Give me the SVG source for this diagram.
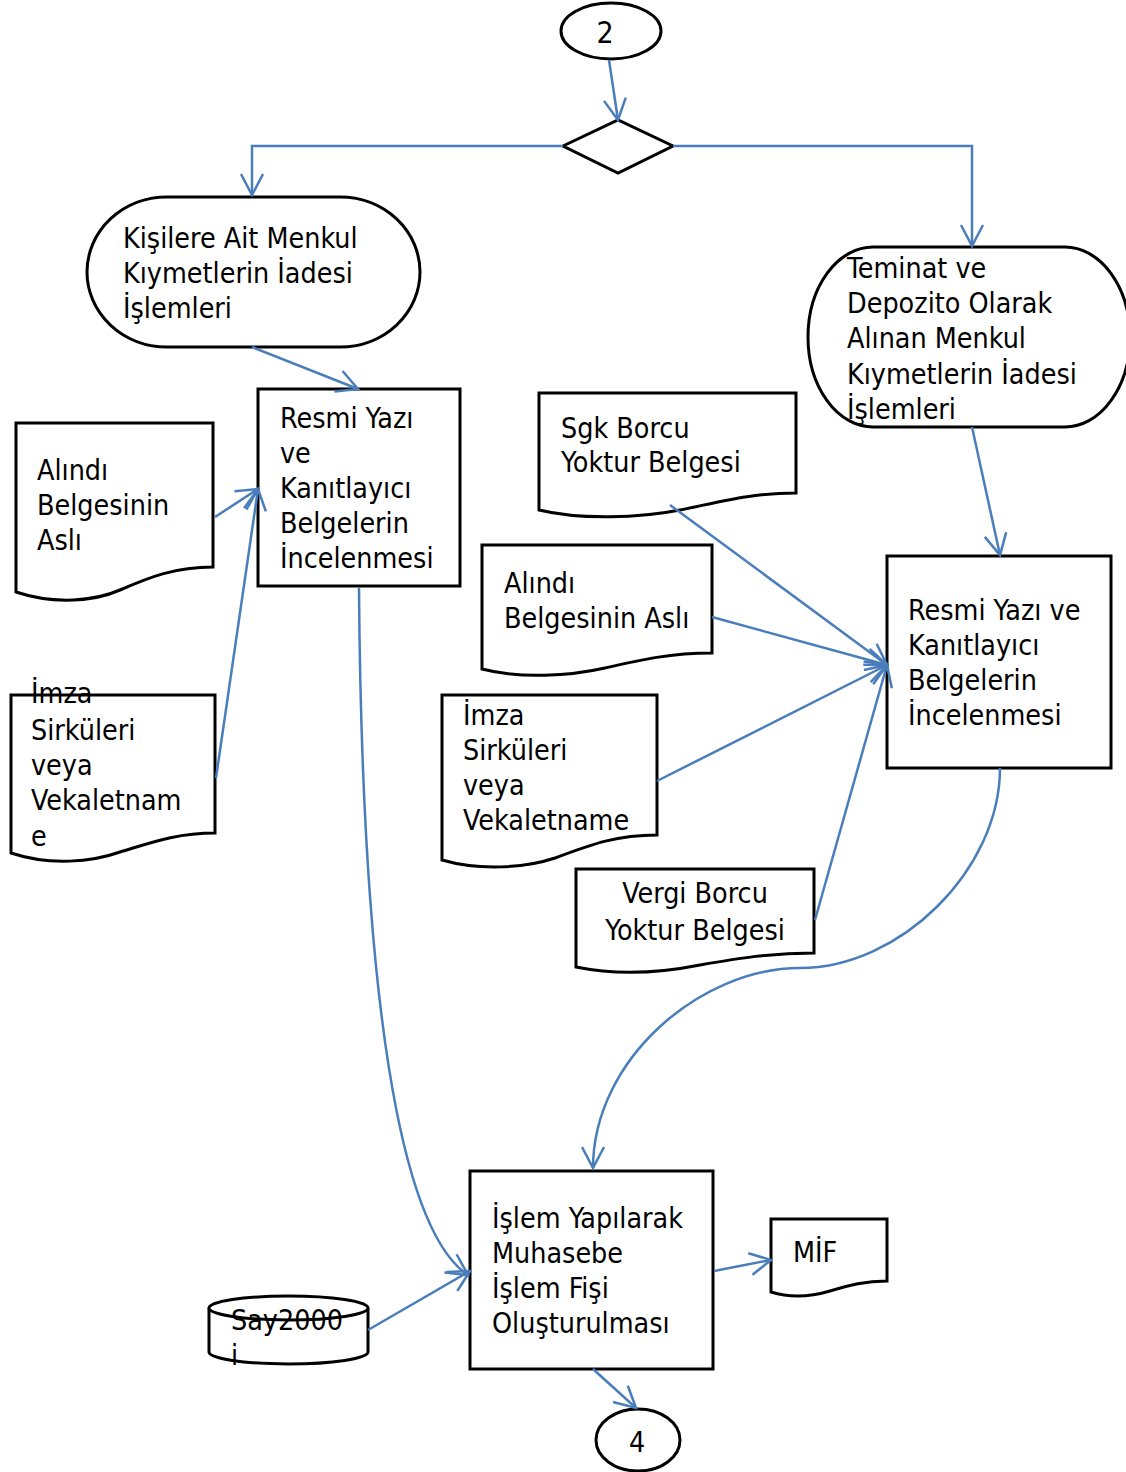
<svg xmlns="http://www.w3.org/2000/svg" width="1126" height="1472" viewBox="0 0 1126 1472">
<defs>
<marker id="arr" viewBox="-24 -12 26 24" refX="0" refY="0" markerWidth="26" markerHeight="24" markerUnits="userSpaceOnUse" orient="auto">
<path d="M-21,-11 L0,0 L-21,11" fill="none" stroke="#4a7ebb" stroke-width="2.5"/>
</marker>
</defs>
<style>
.s{fill:#fff;stroke:#000;stroke-width:3}
.c{fill:none;stroke:#4a7ebb;stroke-width:2.5}
.ca{fill:none;stroke:#4a7ebb;stroke-width:2.5;marker-end:url(#arr)}
text{font-family:'DejaVu Sans Condensed','DejaVu Sans',sans-serif;font-stretch:condensed;font-size:28.4px;fill:#000}
.big{font-size:30px}
</style>
<rect width="1126" height="1472" fill="#fff"/>
<g id="n_start">
<ellipse class="s" cx="611" cy="31" rx="50" ry="28"/>
<text class="big" x="605" y="43" text-anchor="middle">2</text>
</g>
<g id="n_decision">
<path class="s" d="M563,146 L618,120 L673,146 L618,173 Z"/>
</g>
<g id="n_kisilere">
<rect class="s" x="87" y="197" width="333" height="150" rx="80" ry="75"/>
<text x="123" y="248">Kişilere Ait Menkul</text>
<text x="123" y="283">Kıymetlerin İadesi</text>
<text x="123" y="318">İşlemleri</text>
</g>
<g id="n_resmiA">
<rect class="s" x="258" y="389" width="202" height="197"/>
<text x="280" y="428">Resmi Yazı</text>
<text x="280" y="463">ve</text>
<text x="280" y="498">Kanıtlayıcı</text>
<text x="280" y="533">Belgelerin</text>
<text x="280" y="568">İncelenmesi</text>
</g>
<g id="n_alindiL">
<path class="s" d="M16,423 L213,423 L213,567 C175,567 150,577 120,590 C95,601 55,605 16,592 Z"/>
<text x="37" y="480">Alındı</text>
<text x="37" y="515">Belgesinin</text>
<text x="37" y="550">Aslı</text>
</g>
<g id="n_imzaL">
<path class="s" d="M11,695 L215,695 L215,833 C176,833 150,843 120,852 C92,862 50,866 11,853 Z"/>
<text x="31" y="703">İmza</text>
<text x="31" y="740">Sirküleri</text>
<text x="31" y="775">veya</text>
<text x="31" y="810">Vekaletnam</text>
<text x="31" y="846">e</text>
</g>
<g id="n_teminat">
<rect class="s" x="808" y="247" width="322" height="180" rx="65" ry="90"/>
<text x="847" y="278">Teminat ve</text>
<text x="847" y="313">Depozito Olarak</text>
<text x="847" y="348">Alınan Menkul</text>
<text x="847" y="384">Kıymetlerin İadesi</text>
<text x="847" y="419">İşlemleri</text>
</g>
<g id="n_sgk">
<path class="s" d="M539,393 L796,393 L796,493 C750,493 720,502 680,510 C640,518 580,520 539,510 Z"/>
<text x="561" y="438">Sgk Borcu</text>
<text x="561" y="472">Yoktur Belgesi</text>
</g>
<g id="n_alindiM">
<path class="s" d="M482,545 L712,545 L712,653 C670,653 640,660 605,668 C570,676 520,679 482,669 Z"/>
<text x="504" y="593">Alındı</text>
<text x="504" y="628">Belgesinin Aslı</text>
</g>
<g id="n_imzaM">
<path class="s" d="M442,695 L657,695 L657,835 C615,835 590,845 555,858 C525,868 480,871 442,860 Z"/>
<text x="463" y="725">İmza</text>
<text x="463" y="760">Sirküleri</text>
<text x="463" y="795">veya</text>
<text x="463" y="830">Vekaletname</text>
</g>
<g id="n_vergi">
<path class="s" d="M576,869 L814,869 L814,953 C770,953 740,958 700,965 C660,973 615,975 576,967 Z"/>
<text x="695" y="903" text-anchor="middle">Vergi Borcu</text>
<text x="695" y="940" text-anchor="middle">Yoktur Belgesi</text>
</g>
<g id="n_resmiB">
<rect class="s" x="887" y="556" width="224" height="212"/>
<text x="908" y="620">Resmi Yazı ve</text>
<text x="908" y="655">Kanıtlayıcı</text>
<text x="908" y="690">Belgelerin</text>
<text x="908" y="725">İncelenmesi</text>
</g>
<g id="n_islem">
<rect class="s" x="470" y="1171" width="243" height="198"/>
<text x="492" y="1228">İşlem Yapılarak</text>
<text x="492" y="1263">Muhasebe</text>
<text x="492" y="1298">İşlem Fişi</text>
<text x="492" y="1333">Oluşturulması</text>
</g>
<g id="n_mif">
<path class="s" d="M771,1219 L887,1219 L887,1281 C865,1281 850,1285 830,1291 C810,1297 790,1298 771,1292 Z"/>
<text x="793" y="1262">MİF</text>
</g>
<g id="n_say2000">
<path class="s" d="M209,1308 L209,1352 A79.5,12 0 0 0 368,1352 L368,1308"/>
<ellipse class="s" cx="288.5" cy="1308" rx="79.5" ry="12"/>
<text x="231" y="1330">Say2000</text>
<text x="231" y="1365">i</text>
</g>
<g id="n_end">
<ellipse class="s" cx="638" cy="1440" rx="42" ry="31"/>
<text x="637" y="1452" text-anchor="middle">4</text>
</g>
<g id="connectors">
<path class="ca" d="M609,60 L618,120"/>
<path class="ca" d="M563,146 L252,146 L252,195"/>
<path class="ca" d="M673,146 L972,146 L972,246"/>
<path class="ca" d="M252,347 L358,389"/>
<path class="ca" d="M215,517 L258,489"/>
<path class="ca" d="M216,778 L258,489"/>
<path class="ca" d="M359,588 C362,1000 400,1230 468,1275"/>
<path class="ca" d="M972,427 L1000,555"/>
<path class="ca" d="M670,505 L887,665"/>
<path class="ca" d="M712,617 L887,665"/>
<path class="ca" d="M657,781 L887,665"/>
<path class="ca" d="M815,920 L887,665"/>
<path class="ca" d="M1000,768 C1000,870 900,968 800,968 C700,968 593,1060 593,1168"/>
<path class="ca" d="M368,1330 L470,1271"/>
<path class="ca" d="M714,1271 L771,1260"/>
<path class="ca" d="M593,1369 L636,1408"/>
</g>
</svg>
